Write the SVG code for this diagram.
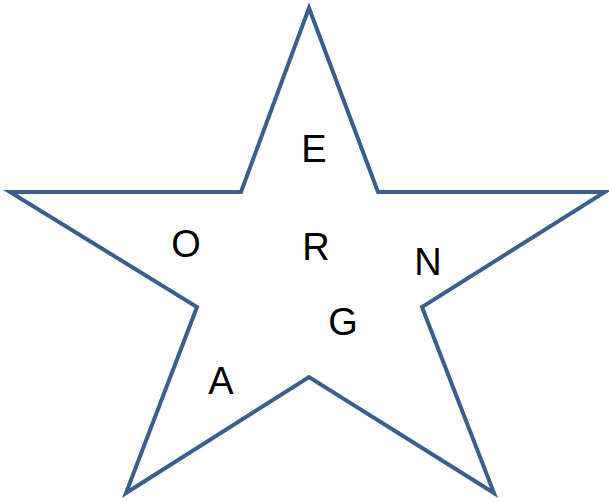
<svg xmlns="http://www.w3.org/2000/svg" width="609" height="502" viewBox="0 0 609 502">
<style>
.star{fill:#ffffff;stroke:#3A5F8F;stroke-width:4;stroke-linejoin:miter;stroke-miterlimit:10}
.lbl{font-family:"Liberation Sans","Open Sans",sans-serif;font-size:38px;fill:#000;text-anchor:middle}
</style>
<rect width="609" height="502" fill="#ffffff"/>
<g id="star">
<polygon class="star" points="309,8 378,192 605,192 422,307 494,493 309,377 126,493 197,307 10,192 241,192"/>
</g>
<g id="labels">
<text class="lbl" x="314" y="162">E</text>
<text class="lbl" x="316" y="260">R</text>
<text class="lbl" x="186" y="257">O</text>
<text class="lbl" x="428" y="275">N</text>
<text class="lbl" x="343" y="335">G</text>
<text class="lbl" x="221" y="394">A</text>
</g>
</svg>
